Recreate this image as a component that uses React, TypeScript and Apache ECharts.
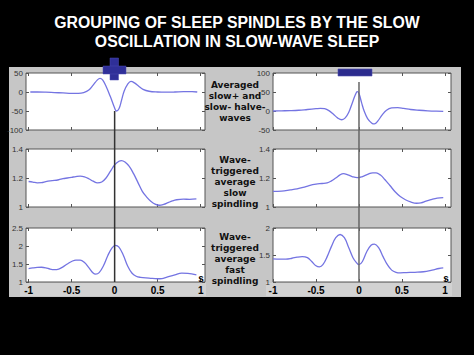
import React, { useEffect, useRef } from "react";
import * as echarts from "echarts";

// ---------- texts ----------
const titleLines = ["GROUPING OF SLEEP SPINDLES BY THE SLOW", "OSCILLATION IN SLOW-WAVE SLEEP"];
const rowLabels = [
  "Averaged\nslow+ and\nslow- halve-\nwaves",
  "Wave-\ntriggered\naverage\nslow\nspindling",
  "Wave-\ntriggered\naverage\nfast\nspindling",
];
const unitLabel = "s";
const xTicks = [-1, -0.5, 0, 0.5, 1];
const triggerTime = [0, 0];
const triggerSpan = [0, 1];

// ---------- left column (slow+ half-wave triggered) ----------
const upWaveT = [-0.98, -0.9, -0.8, -0.7, -0.6, -0.5, -0.42, -0.36, -0.3, -0.25, -0.2, -0.17, -0.14, -0.1, -0.05, 0, 0.02, 0.05, 0.08, 0.11, 0.15, 0.19, 0.23, 0.28, 0.33, 0.4, 0.5, 0.6, 0.7, 0.8, 0.9, 0.96];
const upWaveV = [0, 0, -0.5, -1.5, -2.5, -3.5, -3.5, -1.5, 5, 18, 32, 36, 32, 15, -12, -42, -50, -44, -22, 2, 20, 28, 24, 15, 7, 2, 0, -0.5, 0, 1, 1, 0];

const upSlowT = [-1.0, -0.95, -0.9, -0.85, -0.8, -0.75, -0.7, -0.65, -0.6, -0.55, -0.5, -0.45, -0.4, -0.35, -0.3, -0.25, -0.2, -0.15, -0.1, -0.05, 0, 0.05, 0.08, 0.12, 0.17, 0.22, 0.27, 0.32, 0.37, 0.42, 0.47, 0.52, 0.57, 0.62, 0.67, 0.72, 0.8, 0.87, 0.95];
const upSlowV = [1.176, 1.172, 1.167, 1.168, 1.175, 1.18, 1.183, 1.188, 1.195, 1.2, 1.205, 1.21, 1.213, 1.208, 1.195, 1.178, 1.166, 1.172, 1.2, 1.245, 1.29, 1.315, 1.32, 1.31, 1.28, 1.23, 1.17, 1.11, 1.07, 1.04, 1.02, 1.012, 1.018, 1.03, 1.042, 1.05, 1.054, 1.053, 1.056];

const upFastT = [-1.0, -0.95, -0.9, -0.85, -0.8, -0.75, -0.7, -0.65, -0.6, -0.55, -0.5, -0.45, -0.4, -0.35, -0.3, -0.25, -0.22, -0.18, -0.13, -0.08, -0.03, 0.01, 0.05, 0.1, 0.15, 0.2, 0.25, 0.3, 0.4, 0.5, 0.55, 0.6, 0.7, 0.78, 0.85, 0.95];
const upFastV = [1.37, 1.39, 1.405, 1.41, 1.395, 1.36, 1.345, 1.36, 1.42, 1.5, 1.57, 1.61, 1.61, 1.54, 1.4, 1.25, 1.22, 1.26, 1.45, 1.73, 1.95, 2.02, 1.97, 1.75, 1.45, 1.25, 1.16, 1.13, 1.11, 1.09, 1.095, 1.13, 1.2, 1.245, 1.24, 1.2];

// ---------- right column (slow- half-wave triggered) ----------
const downWaveT = [-1.0, -0.9, -0.8, -0.7, -0.6, -0.5, -0.45, -0.4, -0.35, -0.3, -0.25, -0.2, -0.16, -0.12, -0.08, -0.04, -0.02, 0, 0.03, 0.06, 0.1, 0.15, 0.18, 0.22, 0.27, 0.32, 0.38, 0.45, 0.52, 0.6, 0.7, 0.8, 0.9, 0.98];
const downWaveV = [0, 0.5, 1, 2, 4, 6, 7, 6, 1, -8, -18, -23, -18, -4, 20, 44, 51, 46, 22, 0, -20, -32, -34, -26, -10, 2, 8, 9, 7, 4, 2, 0.5, -0.5, -1];

const downSlowT = [-1.0, -0.9, -0.8, -0.72, -0.65, -0.58, -0.5, -0.43, -0.37, -0.32, -0.27, -0.22, -0.18, -0.13, -0.08, -0.02, 0.04, 0.1, 0.16, 0.2, 0.25, 0.3, 0.36, 0.42, 0.48, 0.54, 0.6, 0.67, 0.72, 0.78, 0.85, 0.91, 0.98];
const downSlowV = [1.108, 1.11, 1.118, 1.125, 1.135, 1.148, 1.158, 1.162, 1.166, 1.18, 1.2, 1.222, 1.23, 1.222, 1.21, 1.202, 1.21, 1.225, 1.236, 1.236, 1.22, 1.19, 1.148, 1.105, 1.072, 1.05, 1.035, 1.026, 1.028, 1.04, 1.053, 1.061, 1.064];

const downFastT = [-1.0, -0.92, -0.85, -0.78, -0.72, -0.66, -0.6, -0.55, -0.5, -0.46, -0.42, -0.37, -0.32, -0.27, -0.22, -0.17, -0.12, -0.07, -0.03, 0, 0.04, 0.09, 0.14, 0.18, 0.23, 0.28, 0.33, 0.38, 0.43, 0.48, 0.55, 0.65, 0.75, 0.85, 0.93, 0.98];
const downFastV = [1.43, 1.425, 1.425, 1.44, 1.46, 1.47, 1.45, 1.38, 1.3, 1.28, 1.32, 1.47, 1.66, 1.82, 1.88, 1.82, 1.64, 1.45, 1.36, 1.32, 1.38, 1.56, 1.68, 1.7, 1.63, 1.47, 1.32, 1.22, 1.18, 1.17, 1.175, 1.18, 1.19, 1.22, 1.25, 1.26];

const zip = (t: number[], v: number[]) => t.map((x, i) => [x, v[i]]);

const LEFT = { left: 26, width: 179, xMin: -1.03, xMax: 1.05 };
const RIGHT = { left: 273, width: 178, xMin: -1.0, xMax: 1.07 };
const ROWS = [
  { top: 73, height: 57 },
  { top: 149, height: 58 },
  { top: 228, height: 54 },
];

const panels = [
  { col: LEFT, row: 0, yMin: -100, yMax: 50, yInt: 50, t: upWaveT, v: upWaveV, showX: false },
  { col: LEFT, row: 1, yMin: 1, yMax: 1.4, yInt: 0.2, t: upSlowT, v: upSlowV, showX: false },
  { col: LEFT, row: 2, yMin: 1, yMax: 2.5, yInt: 0.5, t: upFastT, v: upFastV, showX: true },
  { col: RIGHT, row: 0, yMin: -50, yMax: 100, yInt: 50, t: downWaveT, v: downWaveV, showX: false },
  { col: RIGHT, row: 1, yMin: 1, yMax: 1.4, yInt: 0.2, t: downSlowT, v: downSlowV, showX: false },
  { col: RIGHT, row: 2, yMin: 1, yMax: 2, yInt: 0.5, t: downFastT, v: downFastV, showX: true },
];

export default function App() {
  const ref = useRef<HTMLDivElement>(null);
  useEffect(() => {
    if (!ref.current) return;
    const chart = echarts.init(ref.current, undefined, { renderer: "svg" });
    const grid: any[] = [];
    const xAxis: any[] = [];
    const yAxis: any[] = [];
    const series: any[] = [];
    const tickStyle = { show: true, inside: true, length: 3, lineStyle: { color: "#555", width: 1 } };
    const noLine = { show: false, onZero: false };

    panels.forEach((p) => {
      const r = ROWS[p.row];
      grid.push({
        left: p.col.left, top: r.top, width: p.col.width, height: r.height,
        show: true, backgroundColor: "#ffffff", borderColor: "#555", borderWidth: 1,
      });
      const gi = grid.length - 1;
      const xBase = {
        type: "value", gridIndex: gi, min: p.col.xMin, max: p.col.xMax,
        axisLine: noLine, splitLine: { show: false },
        axisTick: { ...tickStyle, customValues: xTicks },
      };
      xAxis.push({
        ...xBase, position: "bottom",
        axisLabel: {
          show: p.showX, customValues: xTicks, color: "#000", fontWeight: "bold",
          fontSize: 10, fontFamily: "Liberation Sans", margin: 3,
        },
      });
      xAxis.push({ ...xBase, position: "top", axisLabel: { show: false } });
      const yBase = {
        type: "value", gridIndex: gi, min: p.yMin, max: p.yMax, interval: p.yInt,
        axisLine: noLine, splitLine: { show: false }, axisTick: tickStyle,
      };
      yAxis.push({
        ...yBase, position: "left",
        axisLabel: { color: "#333", fontSize: 8, fontFamily: "Liberation Sans", margin: 3 },
      });
      yAxis.push({ ...yBase, position: "right", axisLabel: { show: false } });
      series.push({
        type: "line", xAxisIndex: xAxis.length - 2, yAxisIndex: yAxis.length - 2,
        data: zip(p.t, p.v), smooth: 0.4, showSymbol: false, symbol: "none",
        lineStyle: { color: "#7474e2", width: 1.3 }, z: 3,
      });
    });

    // overlay grids for the trigger lines crossing all panels
    const overlays = [
      { col: LEFT, top: 111, bottom: 282, color: "#333" },
      { col: RIGHT, top: 82, bottom: 282, color: "#666" },
    ];
    overlays.forEach((o) => {
      grid.push({ left: o.col.left, top: o.top, width: o.col.width, height: o.bottom - o.top, show: false });
      const gi = grid.length - 1;
      xAxis.push({ type: "value", gridIndex: gi, min: o.col.xMin, max: o.col.xMax, show: false, axisLine: noLine });
      yAxis.push({ type: "value", gridIndex: gi, min: 0, max: 1, show: false, axisLine: noLine });
      series.push({
        type: "line", xAxisIndex: xAxis.length - 1, yAxisIndex: yAxis.length - 1,
        data: zip(triggerTime, triggerSpan), showSymbol: false, symbol: "none",
        lineStyle: { color: o.color, width: 1.5 }, z: 4,
      });
    });

    const graphic: any[] = [
      { type: "rect", shape: { x: 9, y: 67, width: 452, height: 230 }, style: { fill: "#c6c6c6" }, z: -10 },
      { type: "rect", shape: { x: 20, y: 283, width: 186, height: 13 }, style: { fill: "#d2d2d2" }, z: -9 },
      { type: "rect", shape: { x: 266, y: 283, width: 186, height: 13 }, style: { fill: "#d2d2d2" }, z: -9 },
      ...titleLines.map((t, i) => ({
        type: "text", x: 237, y: 22 + i * 19,
        style: {
          text: t, fill: "#fff", font: "bold 15.8px 'Liberation Sans', Arial, sans-serif",
          textAlign: "center", textVerticalAlign: "middle",
        },
      })),
      ...rowLabels.map((t, i) => ({
        type: "text", x: 235, y: [79.5, 154.5, 231][i],
        style: {
          text: t, fill: "#111", font: "bold 9px 'DejaVu Sans', sans-serif",
          textAlign: "center", textVerticalAlign: "top", lineHeight: 11,
        },
      })),
      ...[201, 446].map((x) => ({
        type: "text", x, y: 278,
        style: {
          text: unitLabel, fill: "#000", font: "bold 10px 'Liberation Sans', sans-serif",
          textAlign: "center", textVerticalAlign: "middle",
        },
        z: 10,
      })),
      // "+" marker (slow+) and "-" marker (slow-)
      { type: "rect", shape: { x: 110, y: 58, width: 8.5, height: 22 }, style: { fill: "#2f2f98", stroke: "#4a4ab0", lineWidth: 0.5 }, z: 10 },
      { type: "rect", shape: { x: 103, y: 66, width: 23, height: 8 }, style: { fill: "#2f2f98", stroke: "#4a4ab0", lineWidth: 0.5 }, z: 10 },
      { type: "rect", shape: { x: 338, y: 69, width: 34, height: 7 }, style: { fill: "#2c2c8e", stroke: "#5050b0", lineWidth: 0.6 }, z: 10 },
    ];

    chart.setOption({
      animation: false,
      backgroundColor: "#000",
      grid, xAxis, yAxis, series, graphic,
    });
    return () => chart.dispose();
  }, []);
  return (
    <div
      ref={ref}
      style={{ position: "fixed", left: 0, top: 0, width: 474, height: 355, background: "#000" }}
    />
  );
}
